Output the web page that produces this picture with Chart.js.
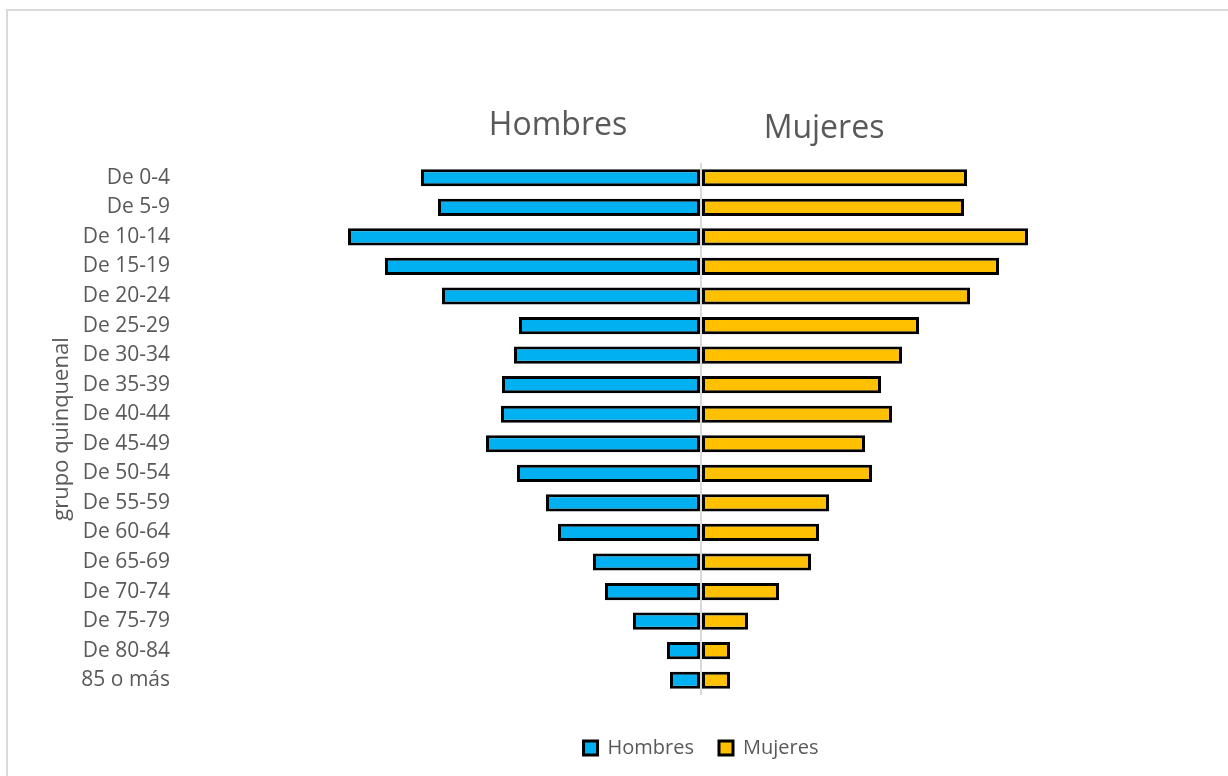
<!DOCTYPE html>
<html>
<head>
<meta charset="utf-8">
<script src="https://cdn.jsdelivr.net/npm/chart.js@4/dist/chart.umd.min.js"></script>
<style>
  body { margin: 0; background: #fff; }
  #frame { position: absolute; left: 6px; top: 9px; width: 1240px; height: 800px; border: 2px solid #d9d9d9; }
  #wrap { position: absolute; left: 0; top: 0; width: 1228px; height: 776px; }
</style>
</head>
<body>
<div id="frame"></div>
<div id="wrap"><canvas id="myChart" width="1228" height="776"></canvas></div>
<script>
var grupos = ["De 0-4", "De 5-9", "De 10-14", "De 15-19", "De 20-24", "De 25-29", "De 30-34",
    "De 35-39", "De 40-44", "De 45-49", "De 50-54", "De 55-59", "De 60-64", "De 65-69",
    "De 70-74", "De 75-79", "De 80-84", "85 o más"];
var hombres = [280, 263, 353, 316, 259, 182, 187, 199, 200, 215, 184, 155, 143, 108, 96, 68, 34, 31];
var mujeres = [266, 263, 327, 298, 269, 218, 201, 180, 191, 164, 171, 128, 118, 110, 78, 47, 29, 29];
var limite = 523;

var gris = "#595959";

// los hombres van a la izquierda
var hombresNeg = hombres.map(function (v) { return -v; });

var titulos = {
    id: "titulos",
    afterDraw: function (chart) {
        var ctx = chart.ctx;
        var cx = chart.scales.x.getPixelForValue(0);
        ctx.save();
        ctx.fillStyle = gris;
        ctx.font = "32px 'Open Sans'";
        ctx.textAlign = "center";
        ctx.textBaseline = "alphabetic";
        ctx.fillText("Hombres", cx - 143, 135);
        ctx.fillText("Mujeres", cx + 123, 138);
        ctx.restore();
    }
};

const ctx = document.getElementById('myChart').getContext('2d');
const myChart = new Chart(ctx, {
    type: 'bar',
    data: {
        labels: grupos,
        datasets: [{
                label: 'Hombres',
                data: hombresNeg,
                backgroundColor: "#00B0F0",
                borderColor: "#000000",
                borderWidth: 3,
                borderSkipped: false
            }, {
                label: 'Mujeres',
                data: mujeres,
                backgroundColor: "#FFC000",
                borderColor: "#000000",
                borderWidth: 3,
                borderSkipped: false
            }]
    },
    options: {
        indexAxis: 'y',
        responsive: false,
        animation: false,
        maintainAspectRatio: false,
        categoryPercentage: 1,
        barPercentage: 0.58,
        layout: {
            padding: {top: 163, right: 4, left: 0, bottom: 8}
        },
        scales: {
            x: {
                stacked: true,
                min: -limite,
                max: limite,
                ticks: {display: false, stepSize: 100},
                border: {display: false},
                grid: {
                    drawTicks: false,
                    z: 1,
                    lineWidth: 2,
                    color: function (c) {
                        return c.tick && c.tick.value === 0 ? "#d9d9d9" : "rgba(0,0,0,0)";
                    }
                },
                afterFit: function (s) { s.height = 18; }
            },
            y: {
                stacked: true,
                border: {display: false},
                grid: {display: false, drawTicks: false},
                ticks: {color: gris, padding: 8, font: {family: "'Open Sans'", size: 21}},
                title: {
                    display: true,
                    text: "grupo quinquenal",
                    color: gris,
                    font: {family: "'Open Sans'", size: 22},
                    padding: {top: 49, bottom: 0}
                },
                afterFit: function (s) { s.width = 178; }
            }
        },
        plugins: {
            legend: {
                position: 'bottom',
                fullSize: false,
                labels: {
                    color: gris,
                    boxWidth: 14,
                    boxHeight: 14,
                    padding: 25,
                    font: {family: "'Open Sans'", size: 20}
                }
            },
            tooltip: {enabled: false}
        }
    },
    plugins: [titulos]
});
</script>
</body>
</html>
